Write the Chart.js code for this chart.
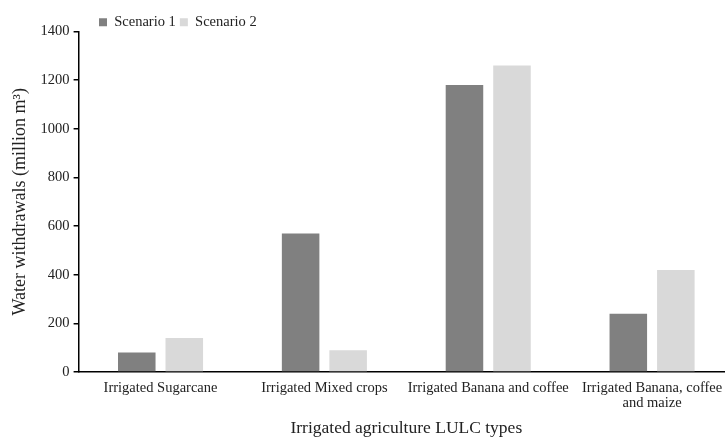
<!DOCTYPE html>
<html>
<head>
<meta charset="utf-8">
<script src="https://cdn.jsdelivr.net/npm/chart.js@4/dist/chart.umd.min.js"></script>
<style>
  html, body { margin: 0; padding: 0; background: #fff; overflow: hidden; }
  /* the original plot runs a little past the right edge of the image */
  #clip { width: 725px; height: 437px; overflow: hidden; }
  #wrap { width: 734px; height: 437px; }
</style>
</head>
<body>
<div id="clip"><div id="wrap"><canvas id="waterChart"></canvas></div></div>
<script>
// Categories and values
const categories = [
    'Irrigated Sugarcane',
    'Irrigated Mixed crops',
    'Irrigated Banana and coffee',
    ['Irrigated Banana, coffee', 'and maize']
];
const scenario1 = [80, 570, 1180, 240];
const scenario2 = [140, 90, 1260, 420];
const yTicks = [0, 200, 400, 600, 800, 1000, 1200, 1400];

const serif = 'Liberation Serif, Times New Roman, serif';

// nudge the legend right and down, the original sits over the plot
const legendShift = {
    id: 'legendShift',
    afterLayout(chart) {
        chart.legend.left += 86;
        chart.legend.right += 86;
        chart.legend.top += 8;
        chart.legend.bottom += 8;
    }
};

const ctx = document.getElementById('waterChart').getContext('2d');
new Chart(ctx, {
    type: 'bar',
    data: {
        labels: categories,
        datasets: [
            {
                label: 'Scenario 1',
                data: scenario1,
                backgroundColor: '#808080',
                categoryPercentage: 0.58,
                barPercentage: 0.79
            },
            {
                label: 'Scenario 2',
                data: scenario2,
                backgroundColor: '#d9d9d9',
                categoryPercentage: 0.58,
                barPercentage: 0.79
            }
        ]
    },
    options: {
        responsive: true,
        maintainAspectRatio: false,
        animation: false,
        layout: { padding: { left: 9, right: 0, top: 3, bottom: 0 } },
        plugins: {
            legend: {
                position: 'top',
                align: 'start',
                labels: {
                    boxWidth: 8,
                    boxHeight: 8,
                    padding: 4,
                    color: '#222',
                    font: { family: serif, size: 14.5 }
                }
            },
            tooltip: { enabled: false }
        },
        scales: {
            x: {
                grid: { display: false, drawTicks: false },
                border: { display: true, color: '#000', width: 1.5 },
                ticks: {
                    color: '#222',
                    padding: 8.5,
                    maxRotation: 0,
                    autoSkip: false,
                    font: { family: serif, size: 14.5, lineHeight: 1.05 }
                },
                title: {
                    display: true,
                    text: 'Irrigated agriculture LULC types',
                    color: '#222',
                    padding: { top: 0, bottom: 0 },
                    font: { family: serif, size: 17.5, lineHeight: 1.0 }
                }
            },
            y: {
                min: 0,
                max: 1400,
                afterBuildTicks: axis => {
                    axis.ticks = yTicks.map(v => ({ value: v }));
                },
                grid: {
                    drawOnChartArea: false,
                    drawTicks: true,
                    tickLength: 5,
                    color: '#000',
                    lineWidth: 1.5
                },
                border: { display: true, color: '#000', width: 1.5 },
                ticks: {
                    color: '#222',
                    padding: 4,
                    callback: v => String(v),
                    font: { family: serif, size: 14.5 }
                },
                title: {
                    display: true,
                    text: 'Water withdrawals (million m³)',
                    color: '#222',
                    padding: { top: 0, bottom: 6 },
                    font: { family: serif, size: 18 }
                }
            }
        }
    },
    plugins: [legendShift]
});
</script>
</body>
</html>
